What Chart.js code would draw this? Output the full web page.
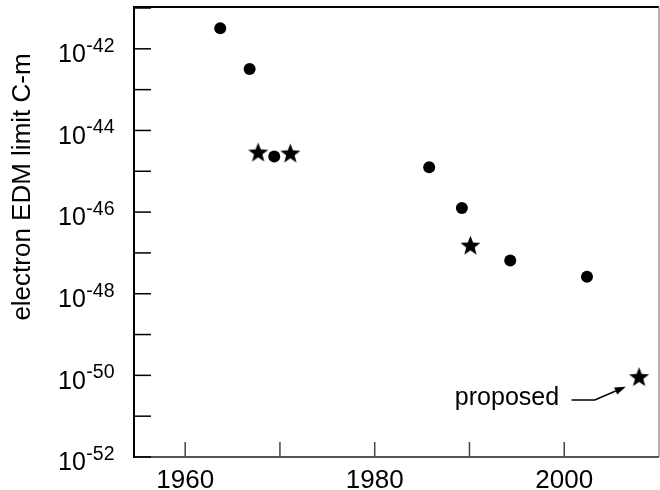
<!DOCTYPE html>
<html><head><meta charset="utf-8">
<script src="https://cdn.jsdelivr.net/npm/chart.js@4/dist/chart.umd.min.js"></script>
<style>html,body{margin:0;padding:0;background:#fff}canvas{display:block}</style>
</head><body>
<canvas id="c" width="660" height="490"></canvas>
<script>
// ---- data ----
const circleYears = [1963.7, 1966.8, 1969.4, 1985.75, 1989.2, 1994.3, 2002.4];
const circleLimits = [3.2e-42, 3.2e-43, 2.3e-45, 1.26e-45, 1.26e-46, 6.5e-48, 2.6e-48];
const starYears = [1967.7, 1971.1, 1990.1];
const starLimits = [2.95e-45, 2.8e-45, 1.55e-47];
const proposedYears = [2007.9];
const proposedLimits = [9.3e-51];
const yTickExponents = [-52, -51, -50, -49, -48, -47, -46, -45, -44, -43, -42, -41];
const yLabelExponents = [-52, -50, -48, -46, -44, -42];
const xTickYears = [1960, 1970, 1980, 1990, 2000];
const xLabelYears = [1960, 1980, 2000];
const yTitle = 'electron EDM limit C-m';
const proposedText = 'proposed';

const FONT = '"Liberation Sans", Arial, Helvetica, sans-serif';

function makeStar(R, ratio) {
  const s = Math.ceil(2 * R + 2);
  const c = document.createElement('canvas');
  c.width = s; c.height = s;
  const g = c.getContext('2d');
  g.fillStyle = '#000';
  g.beginPath();
  for (let i = 0; i < 10; i++) {
    const a = -Math.PI / 2 + i * Math.PI / 5;
    const rad = i % 2 ? R * ratio : R;
    const x = s / 2 + rad * Math.cos(a), y = s / 2 + 0.9 + rad * Math.sin(a);
    i ? g.lineTo(x, y) : g.moveTo(x, y);
  }
  g.closePath();
  g.fill();
  return c;
}
const starImg = makeStar(10.5, 0.42);

const pts = (xs, ys) => xs.map((x, i) => ({ x: x, y: ys[i] }));

const decorations = {
  id: 'decorations',
  beforeDatasetsDraw(chart) {
    const { ctx, chartArea: a, scales: { x, y } } = chart;
    ctx.save();
    // frame
    ctx.lineCap = 'butt';
    ctx.strokeStyle = '#000'; ctx.lineWidth = 2;
    ctx.beginPath(); ctx.moveTo(a.left, a.top - 1); ctx.lineTo(a.right, a.top - 1); ctx.stroke();
    ctx.strokeStyle = '#999'; ctx.lineWidth = 1.5;
    ctx.beginPath(); ctx.moveTo(a.right, a.top - 1); ctx.lineTo(a.right, a.bottom); ctx.stroke();
    ctx.strokeStyle = '#555'; ctx.lineWidth = 2;
    ctx.beginPath(); ctx.moveTo(a.left, a.bottom); ctx.lineTo(a.right, a.bottom); ctx.stroke();
    ctx.strokeStyle = '#000'; ctx.lineWidth = 2;
    ctx.beginPath(); ctx.moveTo(a.left, a.top - 2); ctx.lineTo(a.left, a.bottom + 1); ctx.stroke();
    // x ticks (inward)
    ctx.strokeStyle = '#444'; ctx.lineWidth = 1.5;
    xTickYears.forEach(v => {
      const px = x.getPixelForValue(v);
      ctx.beginPath(); ctx.moveTo(px, a.bottom); ctx.lineTo(px, a.bottom - 15); ctx.stroke();
    });
    // y ticks (inward)
    ctx.strokeStyle = '#000'; ctx.lineWidth = 1.5;
    yTickExponents.forEach(e => {
      const py = y.getPixelForValue(Number('1e' + e));
      ctx.beginPath(); ctx.moveTo(a.left, py); ctx.lineTo(a.left + 17, py); ctx.stroke();
    });
    ctx.restore();
  },
  afterDraw(chart) {
    const { ctx, chartArea: a, scales: { x, y } } = chart;
    ctx.save();
    ctx.fillStyle = '#000';
    // x labels
    ctx.font = '26px ' + FONT;
    ctx.textAlign = 'center'; ctx.textBaseline = 'alphabetic';
    xLabelYears.forEach(v => {
      ctx.fillText(String(v), x.getPixelForValue(v), a.bottom + 30.5);
    });
    // y labels with superscript exponent
    yLabelExponents.forEach(e => {
      const py = y.getPixelForValue(Number('1e' + e));
      const right = a.left - 19.5;
      ctx.font = '19.5px ' + FONT;
      ctx.textAlign = 'right';
      const expStr = String(e);
      const w = ctx.measureText(expStr).width;
      ctx.fillText(expStr, right, py + 3);
      ctx.font = '25px ' + FONT;
      ctx.fillText('10', right - w - 0.5, py + 13.3);
    });
    // y title
    ctx.save();
    ctx.translate(23, 187);
    ctx.rotate(-Math.PI / 2);
    ctx.font = '26px ' + FONT;
    ctx.textAlign = 'center'; ctx.textBaseline = 'middle';
    ctx.fillText(yTitle, 0, 0);
    ctx.restore();
    // "proposed" annotation with arrow
    const p = chart.getDatasetMeta(2).data[0];
    const px = p.x, py = p.y;
    ctx.font = '25px ' + FONT;
    ctx.textAlign = 'right'; ctx.textBaseline = 'alphabetic';
    ctx.fillText(proposedText, px - 80, py + 28.5);
    const sx = px - 67.6, sy = py + 23.3, bx = px - 44.3, by = py + 23.3;
    const tx = px - 13.3, ty = py + 10;
    const ang = Math.atan2(ty - by, tx - bx);
    const L = 11, H = 3.8;
    const baseX = tx - L * Math.cos(ang), baseY = ty - L * Math.sin(ang);
    ctx.strokeStyle = '#000'; ctx.lineWidth = 1.4;
    ctx.beginPath(); ctx.moveTo(sx, sy); ctx.lineTo(bx, by); ctx.lineTo(baseX, baseY); ctx.stroke();
    ctx.beginPath();
    ctx.moveTo(tx, ty);
    ctx.lineTo(baseX + H * Math.sin(ang), baseY - H * Math.cos(ang));
    ctx.lineTo(baseX - H * Math.sin(ang), baseY + H * Math.cos(ang));
    ctx.closePath(); ctx.fill();
    ctx.restore();
  }
};

new Chart(document.getElementById('c'), {
  type: 'scatter',
  data: {
    datasets: [
      { label: 'measured', data: pts(circleYears, circleLimits), pointStyle: 'circle', pointRadius: 6,
        backgroundColor: '#000', borderColor: '#000', borderWidth: 0 },
      { label: 'measured (star)', data: pts(starYears, starLimits), pointStyle: starImg, pointRadius: 10,
        backgroundColor: '#000', borderColor: '#000', borderWidth: 0 },
      { label: 'proposed', data: pts(proposedYears, proposedLimits), pointStyle: starImg, pointRadius: 10,
        backgroundColor: '#000', borderColor: '#000', borderWidth: 0 }
    ]
  },
  options: {
    responsive: false,
    animation: false,
    events: [],
    layout: { autoPadding: false, padding: { top: 8, right: 1, left: 0, bottom: 0 } },
    plugins: { legend: { display: false }, tooltip: { enabled: false } },
    scales: {
      x: { type: 'linear', min: 1954.6, max: 2010,
           ticks: { display: false }, grid: { display: false }, border: { display: false },
           afterFit(s) { s.height = 33; } },
      y: { type: 'logarithmic', min: 1e-52, max: 1e-41,
           ticks: { display: false }, grid: { display: false }, border: { display: false },
           afterFit(s) { s.width = 134; } }
    }
  },
  plugins: [decorations]
});
</script>
</body></html>
